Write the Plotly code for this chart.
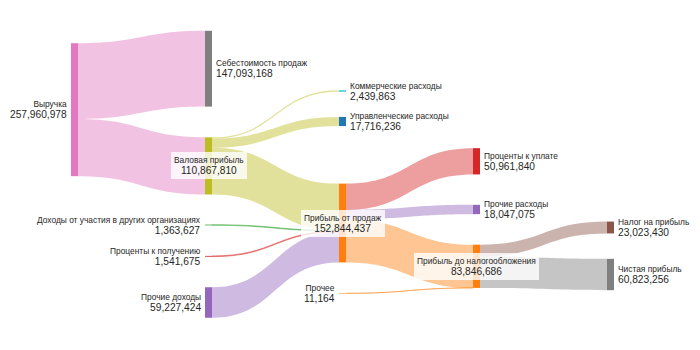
import plotly.graph_objects as go

# ---- data ----
node_names = [
    "Выручка",                                  # 0
    "Себестоимость продаж",                     # 1
    "Валовая прибыль",                          # 2
    "Коммерческие расходы",                     # 3
    "Управленческие расходы",                   # 4
    "Прибыль от продаж",                        # 5
    "Доходы от участия в других организациях",  # 6
    "Проценты к получению",                     # 7
    "Прочие доходы",                            # 8
    "Проценты к уплате",                        # 9
    "Прочие расходы",                           # 10
    "Прибыль до налогообложения",               # 11
    "Прочее",                                   # 12
    "Налог на прибыль",                         # 13
    "Чистая прибыль",                           # 14
]

link_source = [0, 0, 2, 2, 2, 6, 7, 8, 5, 5, 5, 12, 11, 11]
link_target = [1, 2, 3, 4, 5, 5, 5, 5, 9, 10, 11, 11, 13, 14]
link_value = [
    147093168, 110867810,
    2439863, 17716236, 90711711,
    1363627, 1541675, 59227424,
    50961840, 18047075, 83835522,
    11164,
    23023430, 60823256,
]

# ---- styles / layout ----
node_colors = [
    "#e377c2", "#7f7f7f", "#bcbd22", "#17becf", "#1f77b4", "#ff7f0e",
    "#2ca02c", "#d62728", "#9467bd", "#d62728", "#9467bd", "#ff7f0e",
    "#ff7f0e", "#8c564b", "#7f7f7f",
]
link_colors = [
    "rgba(227,119,194,0.45)", "rgba(227,119,194,0.45)",
    "rgba(188,189,34,0.45)", "rgba(188,189,34,0.45)", "rgba(188,189,34,0.45)",
    "rgba(44,160,44,0.45)", "rgba(214,39,40,0.45)", "rgba(148,103,189,0.45)",
    "rgba(214,39,40,0.45)", "rgba(148,103,189,0.45)", "rgba(255,127,14,0.45)",
    "rgba(255,127,14,0.45)",
    "rgba(140,86,75,0.45)", "rgba(127,127,127,0.45)",
]

W, H = 700, 350
M_T, M_B = 20, 45
PLOT_H = H - M_T - M_B

col_px = [74.5, 208.5, 342.5, 476.5, 610.5]
node_col = [0, 1, 1, 2, 2, 2, 1, 1, 1, 3, 3, 3, 2, 4, 4]
node_cy_px = [109.7, 68.7, 165.9, 91.0, 121.5, 223.0, 225.0, 256.3, 302.5,
              161.3, 209.5, 266.3, 293.3, 227.5, 274.5]
label_side = ["left", "right", "center", "right", "right", "center",
              "left", "left", "left", "right", "right", "center",
              "left", "right", "right"]

node_x = [col_px[c] / W for c in node_col]
node_y = [(cy - M_T) / PLOT_H for cy in node_cy_px]

# node totals
n = len(node_names)
in_sum = [0] * n
out_sum = [0] * n
for s, t, v in zip(link_source, link_target, link_value):
    out_sum[s] += v
    in_sum[t] += v
node_total = [max(a, b) for a, b in zip(in_sum, out_sum)]

fig = go.Figure(go.Sankey(
    arrangement="fixed",
    node=dict(
        label=["" for _ in node_names],
        customdata=node_names,
        hovertemplate="%{customdata}: %{value:,}<extra></extra>",
        color=node_colors,
        thickness=7,
        pad=20,
        line=dict(width=0),
        x=node_x,
        y=node_y,
    ),
    link=dict(
        source=link_source,
        target=link_target,
        value=link_value,
        color=link_colors,
        line=dict(width=0),
    ),
))

annotations = []
for i, name in enumerate(node_names):
    txt = (f"<span style='font-size:8.4px'>{name}</span><br>"
           f"<span style='font-size:10.2px'>{node_total[i]:,}</span>")
    side = label_side[i]
    a = dict(
        x=node_x[i], y=1 - node_y[i], xref="paper", yref="paper",
        text=txt, showarrow=False, yanchor="middle",
        font=dict(family="Liberation Sans, Arial, sans-serif", size=8.6, color="#262626"),
        borderwidth=0,
    )
    if side == "left":
        a.update(xanchor="right", align="right", xshift=-6.5, borderpad=1)
    elif side == "right":
        a.update(xanchor="left", align="left", xshift=6.5, borderpad=1)
    else:
        a.update(xanchor="center", align="center", borderpad=3,
                 bgcolor="rgba(255,255,255,0.8)")
    annotations.append(a)

fig.update_layout(
    width=W, height=H,
    margin=dict(l=0, r=0, t=M_T, b=M_B),
    paper_bgcolor="white",
    plot_bgcolor="white",
    annotations=annotations,
    font=dict(family="Liberation Sans, Arial, sans-serif", size=9, color="#262626"),
)

fig.write_html("out.html")
